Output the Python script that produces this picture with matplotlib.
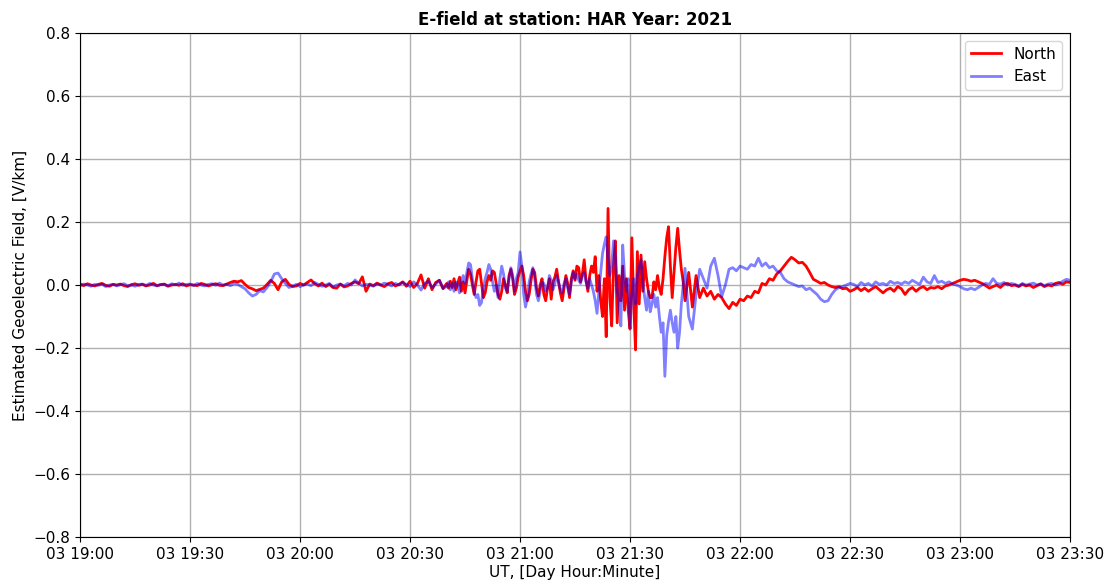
import numpy as np
import matplotlib
matplotlib.use("Agg")
import matplotlib.pyplot as plt
import matplotlib.dates as mdates
from datetime import datetime, timedelta

# ---- data (values in mV/km, converted to V/km below) ----
# segment A: 19:00 .. 20:39, 1-minute samples
north_a = [3, -2, 4, 0, -3, 2, 5, -1, -4, 2,
           0, 3, -2, -5, 1, 4, -1, 2, -3, 0,
           5, -2, 1, 3, -4, 0, 2, -1, 4, -3,
           1, 0, -2, 5, 2, -3, 1, 4, -1, -2,
           3, 8, 12, 10, 14, 2, -8, -12, -18, -14,
           -10, 2, 15, 5, -15, 10, 18, 2, -5, -3,
           5, 0, 8, 16, 4, -3, 6, -5, 2, -8,
           -10, 3, -6, -3, 5, 10, 4, 26, -20, 3,
           -2, 6, 0, -5, 4, 8, -3, 2, 10, -4,
           12, -8, 5, 32, -10, 20, -15, 8, 15, -12]
east_a = [-2, 3, 0, -4, 2, -1, 3, -5, 0, 2,
          -3, 1, 4, -2, 0, -4, 2, 3, -1, 5,
          0, -3, 2, 1, -2, 4, 0, 6, -1, 2,
          3, -2, 5, 0, -3, 2, 4, -1, 6, 0,
          2, -2, 4, 2, -5, -12, -25, -35, -30, -18,
          -22, -8, 10, 35, 38, 20, 5, -8, -3, 2,
          -5, 0, 3, -2, 8, 2, -4, 0, 5, -6,
          0, 3, -2, 5, 0, 16, 6, -3, 2, 0,
          -4, 3, 0, 6, 2, -3, 5, 0, 8, 2,
          -5, 10, 0, -16, 5, 12, -8, 3, 15, -10]

# segment B: 20:40 .. 21:44:30, 30-second samples
north_b = [5, -10, 12, -8, 20, -15, 5, 25, -20, 10,
           -25, 15, 50, 35, 0, -30, 10, 45, 50, 5,
           -40, -25, 10, 30, 15, 45, 40, 5, -30, -45,
           -20, 20, 0, -25, 30, 50, 20, -30, -10, 25,
           45, 60, 30, -20, -50, -30, 15, 50, 40, -10,
           -35, 0, 20, -30, -50, -10, 20, -45, 10, 25,
           50, 10, -25, -50, -10, 30, 5, -40, 20, 45,
           15, 60, 55, 10, 35, 80, 15, -20, 30, 60,
           40, 90, -20, 30, -50, -100, 20, -164, 243, -40,
           -130, 60, 140, -120, 30, -50, 60, -80, 20, -80,
           -140, 150, -60, -206, 106, -60, 95, -20, 74, 20,
           -20, -40, -40, 10, -15, 30, -10, -30, 20, 90,
           150, 185, 60, -40, 40, 120, 180, 110, 50, 10]
east_b = [-5, 10, -15, 5, -20, 10, 0, -25, 15, 30,
          5, 40, 70, 65, 20, -20, -40, -30, -65, -55,
          -10, 20, 40, 65, 50, 10, -20, 0, -40, 20,
          60, 35, -10, -20, 20, 55, 30, -20, 20, 40,
          105, 60, -30, -70, -40, 10, 35, 55, 20, -30,
          -50, -20, 10, 5, -20, -10, 30, 15, -15, 5,
          30, 10, -15, -25, 5, 20, -10, -30, 10, 40,
          20, 35, 15, 5, 30, 40, 10, -10, 20, 0,
          -20, -50, -90, -20, 40, 100, 130, 153, 80, 30,
          60, 140, 90, -20, -60, -130, 127, 30, -20, 20,
          -135, -30, 20, -60, 30, 60, 80, 10, -40, -80,
          -20, -85, -60, -30, -70, -40, -100, -150, -120, -290,
          -160, -116, -80, -120, -150, -100, -200, -150, -60, 0]

# segment C: 21:45 .. 23:30, 1-minute samples
north_c = [-50, 40, -70, 30, -40, -10, -35, -20, -45, -30,
           -40, -60, -75, -55, -65, -45, -50, -35, -40, -20,
           -25, 5, 0, 20, 15, 35, 45, 60, 75, 88,
           80, 70, 72, 60, 40, 18, 12, 5, 8, 0,
           -5, -8, -5, -12, -10, -20, -15, -8, -18, -10,
           -20, -12, -5, -15, -25, -15, -10, -20, -5, -12,
           -30, -15, -8, -20, -10, -5, -15, -8, -10, -5,
           -12, -3, 0, 5, 10, 15, 18, 16, 12, 15,
           10, 5, -2, -10, -5, 0, -8, 3, 5, -2,
           0, -5, 2, -3, 0, -8, -2, 3, -5, 0,
           -3, 5, 8, 2, 10, 8]
east_c = [53, -100, -140, -30, 50, 20, -10, 60, 85, 30,
          -37, 0, 50, 55, 45, 60, 55, 50, 65, 60,
          85, 60, 70, 55, 60, 45, 40, 20, 10, 5,
          0, -5, -3, -15, -10, -20, -30, -45, -53, -50,
          -30, -15, -8, -5, 0, 5, 2, -5, 8, 0,
          5, -3, 10, 2, 5, 0, 12, 5, 8, 3,
          10, 5, 15, 8, 2, 25, 10, 5, 30, 8,
          12, 5, 10, 3, 0, -5, -12, -15, -10, -15,
          -8, 0, 5, 2, 20, 5, 3, 8, 0, 5,
          2, -3, 5, 0, 3, 6, 0, 4, -2, 3,
          5, 0, 4, 12, 18, 15]

start = datetime(2021, 11, 3, 19, 0)
end = datetime(2021, 11, 3, 23, 30)

minutes = np.concatenate([np.arange(0, 100, 1.0),
                          np.arange(100, 165, 0.5),
                          np.arange(165, 271, 1.0)])
north = np.array(north_a + north_b + north_c) / 1000.0
east = np.array(east_a + east_b + east_c) / 1000.0
assert len(minutes) == len(north) == len(east)
times = [start + timedelta(minutes=float(m)) for m in minutes]

fig = plt.figure(figsize=(11.07, 5.86), dpi=100)
ax = fig.add_axes([0.0723, 0.0836, 0.8943, 0.8601])

ax.plot(times, north, color="red", lw=2.0, label="North")
ax.plot(times, east, color="blue", lw=2.0, alpha=0.5, label="East")

ax.set_xlim(start, end)
ax.set_ylim(-0.8, 0.8)
ax.set_yticks(np.arange(-0.8, 0.81, 0.2))
ax.xaxis.set_major_locator(mdates.MinuteLocator(byminute=[0, 30]))
ax.xaxis.set_major_formatter(mdates.DateFormatter("%d %H:%M"))
ax.tick_params(labelsize=11)
ax.grid(True, color="#b0b0b0", lw=1)

ax.set_title("E-field at station: HAR Year: 2021", fontsize=12, fontweight="bold", pad=6)
ax.set_xlabel("UT, [Day Hour:Minute]", fontsize=11, labelpad=2)
ax.set_ylabel("Estimated Geoelectric Field, [V/km]", fontsize=11)
ax.legend(loc="upper right", fontsize=11)

fig.savefig("out.png", dpi=100)
